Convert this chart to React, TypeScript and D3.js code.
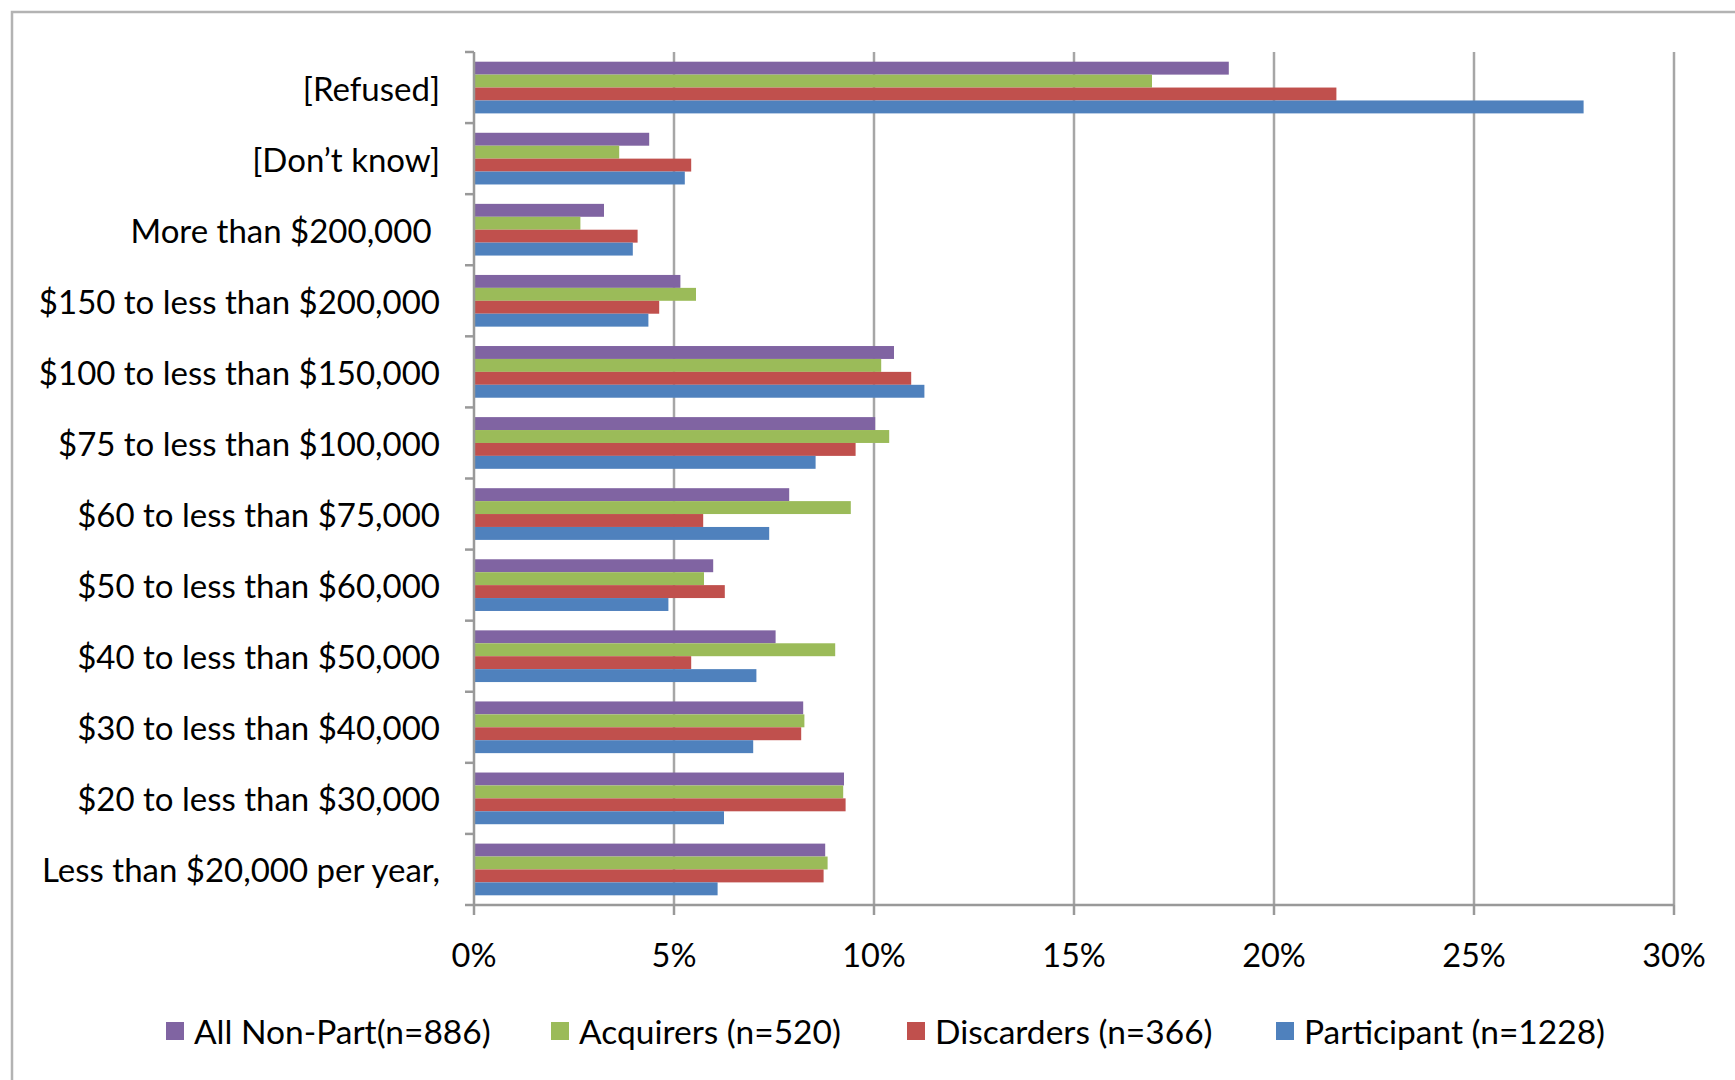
import { useEffect, useRef } from "react";
import * as d3 from "d3";

const categories = [
  "[Refused]",
  "[Don\u2019t know]",
  "More than $200,000 ",
  "$150 to less than $200,000",
  "$100 to less than $150,000",
  "$75 to less than $100,000",
  "$60 to less than $75,000",
  "$50 to less than $60,000",
  "$40 to less than $50,000",
  "$30 to less than $40,000",
  "$20 to less than $30,000",
  "Less than $20,000 per year,",
];

const seriesNames = [
  "All Non-Part(n=886)",
  "Acquirers (n=520)",
  "Discarders (n=366)",
  "Participant (n=1228)",
];

const seriesColors = ["#8064A2", "#9BBB59", "#C0504D", "#4F81BD"];

// values in percent, same order as categories
const allNonPart = [18.87, 4.38, 3.25, 5.16, 10.5, 10.03, 7.88, 5.98, 7.54, 8.23, 9.25, 8.78];
const acquirers = [16.95, 3.63, 2.66, 5.55, 10.18, 10.38, 9.42, 5.75, 9.03, 8.26, 9.23, 8.84];
const discarders = [21.56, 5.43, 4.09, 4.63, 10.93, 9.54, 5.73, 6.27, 5.43, 8.18, 9.29, 8.74];
const participant = [27.74, 5.27, 3.97, 4.36, 11.26, 8.54, 7.38, 4.86, 7.06, 6.98, 6.25, 6.09];

const xTicks = [0, 5, 10, 15, 20, 25, 30];

const W = 1735;
const H = 1080;
const PLOT = { left: 474, right: 1674, top: 52, bottom: 905 };
const FONT = "Lato, 'Open Sans', sans-serif";

export default function App() {
  const svgRef = useRef<SVGSVGElement>(null);

  useEffect(() => {
    if (!svgRef.current) return;
    const svg = d3.select(svgRef.current);
    svg.selectAll("*").remove();

    const series = [allNonPart, acquirers, discarders, participant];
    const rows = categories.map((c, i) => ({
      category: c,
      values: series.map((s) => s[i]),
    }));

    const x = d3.scaleLinear().domain([0, 30]).range([PLOT.left, PLOT.right]);
    const y = d3
      .scaleBand()
      .domain(categories)
      .range([PLOT.top, PLOT.bottom])
      .padding(0);

    const band = y.bandwidth();
    const gap = (band * 1.5) / 5.5;
    const inner = d3
      .scaleBand<number>()
      .domain(d3.range(4))
      .range([gap / 2, band - gap / 2])
      .padding(0);

    // outer frame
    svg
      .append("rect")
      .attr("x", 12)
      .attr("y", 12)
      .attr("width", W + 50)
      .attr("height", H + 50)
      .attr("fill", "#fff")
      .attr("stroke", "#b3b3b3")
      .attr("stroke-width", 2.5);

    // vertical gridlines
    svg
      .append("g")
      .selectAll("line")
      .data(xTicks.slice(1))
      .join("line")
      .attr("x1", (d) => x(d))
      .attr("x2", (d) => x(d))
      .attr("y1", PLOT.top)
      .attr("y2", PLOT.bottom)
      .attr("stroke", "#a6a6a6")
      .attr("stroke-width", 2.5);

    // bars
    const groups = svg
      .append("g")
      .selectAll("g")
      .data(rows)
      .join("g")
      .attr("transform", (d) => `translate(0,${y(d.category)})`);

    groups
      .selectAll("rect")
      .data((d) => d.values.map((v, k) => ({ v, k })))
      .join("rect")
      .attr("x", x(0))
      .attr("y", (d) => inner(d.k) || 0)
      .attr("width", (d) => x(d.v) - x(0))
      .attr("height", inner.bandwidth())
      .attr("fill", (d) => seriesColors[d.k]);

    // y axis line + ticks
    svg
      .append("line")
      .attr("x1", PLOT.left)
      .attr("x2", PLOT.left)
      .attr("y1", PLOT.top)
      .attr("y2", PLOT.bottom)
      .attr("stroke", "#999")
      .attr("stroke-width", 2.5);

    const yTickPos = categories.map((c) => y(c) || 0).concat([PLOT.bottom]);
    svg
      .append("g")
      .selectAll("line")
      .data(yTickPos)
      .join("line")
      .attr("x1", PLOT.left - 9)
      .attr("x2", PLOT.left)
      .attr("y1", (d) => d)
      .attr("y2", (d) => d)
      .attr("stroke", "#999")
      .attr("stroke-width", 2.5);

    // x axis line + ticks
    svg
      .append("line")
      .attr("x1", PLOT.left)
      .attr("x2", PLOT.right)
      .attr("y1", PLOT.bottom)
      .attr("y2", PLOT.bottom)
      .attr("stroke", "#999")
      .attr("stroke-width", 2.5);

    svg
      .append("g")
      .selectAll("line")
      .data(xTicks)
      .join("line")
      .attr("x1", (d) => x(d))
      .attr("x2", (d) => x(d))
      .attr("y1", PLOT.bottom)
      .attr("y2", PLOT.bottom + 10)
      .attr("stroke", "#999")
      .attr("stroke-width", 2.5);

    // x tick labels
    svg
      .append("g")
      .selectAll("text")
      .data(xTicks)
      .join("text")
      .attr("x", (d) => x(d))
      .attr("y", 954)
      .attr("text-anchor", "middle")
      .attr("dominant-baseline", "central")
      .attr("font-family", FONT)
      .attr("font-size", 32.5)
      .attr("fill", "#000")
      .text((d) => `${d}%`);

    // category labels
    svg
      .append("g")
      .selectAll("text")
      .data(categories)
      .join("text")
      .attr("x", 440)
      .attr("y", (d) => (y(d) || 0) + band / 2)
      .attr("text-anchor", "end")
      .attr("dominant-baseline", "central")
      .attr("font-family", FONT)
      .attr("font-size", 33)
      .attr("fill", "#000")
      .style("white-space", "pre")
      .text((d) => d);

    // legend
    const legendX = [166, 551, 907, 1276];
    const legend = svg
      .append("g")
      .selectAll("g")
      .data(seriesNames)
      .join("g")
      .attr("transform", (_, i) => `translate(${legendX[i]},1031)`);

    legend
      .append("rect")
      .attr("x", 0)
      .attr("y", -9)
      .attr("width", 18)
      .attr("height", 18)
      .attr("fill", (_, i) => seriesColors[i]);

    legend
      .append("text")
      .attr("x", 28)
      .attr("y", 0)
      .attr("dominant-baseline", "central")
      .attr("font-family", FONT)
      .attr("font-size", 33.5)
      .attr("fill", "#000")
      .text((d) => d);
  }, []);

  return (
    <svg
      ref={svgRef}
      width={W}
      height={H}
      style={{ position: "absolute", left: 0, top: 0, background: "#fff" }}
    />
  );
}
